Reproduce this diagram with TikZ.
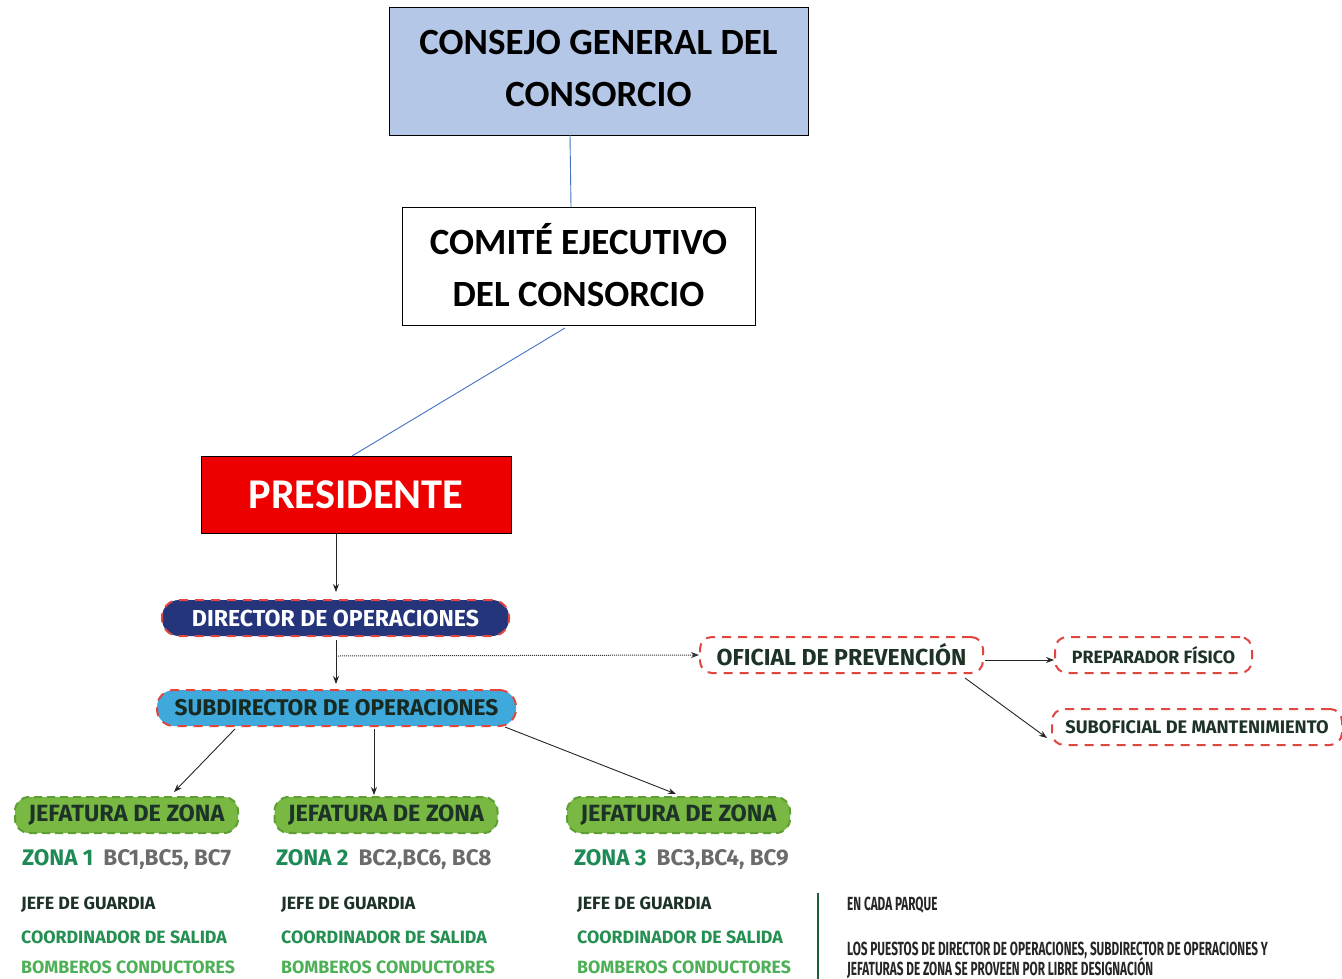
\documentclass[tikz,border=0pt]{standalone}
\usepackage{fontspec}
\setmainfont{Carlito}
\newfontfamily\lowfont{Fira Sans}
\newfontfamily\notefont[FakeStretch=0.62]{Fira Sans}
\usetikzlibrary{arrows.meta}
\definecolor{topblue}{HTML}{B4C7E7}
\definecolor{linkblue}{HTML}{4472C4}
\definecolor{presred}{HTML}{EE0000}
\definecolor{navy}{HTML}{25357C}
\definecolor{skyb}{HTML}{3FA9DC}
\definecolor{dashred}{HTML}{E0453F}
\definecolor{jgreen}{HTML}{78B843}
\definecolor{jgreenb}{HTML}{5E9E35}
\definecolor{zgreen}{HTML}{1E8A55}
\definecolor{bgray}{HTML}{6B6B6B}
\definecolor{darkt}{HTML}{1E3328}
\definecolor{cgreen}{HTML}{238F50}
\definecolor{bgreen}{HTML}{4DB057}
\definecolor{vline}{HTML}{1D5E3A}
\begin{document}
\begin{tikzpicture}[x=1pt,y=-1pt,
  topbox/.style={draw=black,line width=0.8pt,minimum width=#1,align=center,inner sep=0pt,
     font=\fontsize{37}{52}\selectfont\bfseries},
  pill/.style={rounded corners=17pt,draw=dashred,line width=2pt,dash pattern=on 9pt off 7pt,
     minimum height=36pt,inner sep=0pt},
  jefa/.style={rounded corners=14pt,fill=jgreen,draw=jgreenb,line width=2pt,dash pattern=on 8pt off 5pt,
     minimum width=223pt,minimum height=36pt,inner sep=0pt,text=darkt,
     font=\lowfont\bfseries\fontsize{23.5}{26}\selectfont},
  redbox/.style={rounded corners=12pt,fill=white,draw=dashred,line width=2pt,dash pattern=on 9pt off 7pt,
     minimum height=36pt,inner sep=0pt},
  arr/.style={-{Stealth[length=8pt,width=6pt]},line width=0.9pt,draw=black!85},
  link/.style={draw=linkblue,line width=0.9pt},
  zl/.style={anchor=west,inner sep=0pt,font=\lowfont\bfseries\fontsize{22.5}{26}\selectfont},
  rl/.style={anchor=west,inner sep=0pt,font=\lowfont\bfseries\fontsize{17.8}{20}\selectfont},
  nl/.style={anchor=west,inner sep=0pt,text=black!85,font=\notefont\bfseries\fontsize{19}{22}\selectfont}
]
\useasboundingbox (0,0) rectangle (1342,979);
\fill[white] (0,0) rectangle (1342,979);

% top boxes
\node[topbox=419pt,fill=topblue,minimum height=128pt] (cg) at (598.5,71) {};
\node[align=center,inner sep=0pt,font=\fontsize{37}{52}\selectfont\bfseries] (cgt) at (598.5,68) {CONSEJO GENERAL DEL\\CONSORCIO};
\node[topbox=353pt,fill=white,minimum height=118pt] (ce) at (578.5,266) {};
\node[align=center,inner sep=0pt,font=\fontsize{37}{52}\selectfont\bfseries] (cet) at (578.5,265) {COMITÉ EJECUTIVO\\DEL CONSORCIO};
\node[draw=black,line width=0.8pt,fill=presred,minimum width=310pt,minimum height=77pt,inner sep=0pt,
  text=white,font=\fontsize{42.4}{48}\selectfont\bfseries] (pr) at (356,494.5) {PRESIDENTE};

\draw[link] (570,135) -- (571,207);
\draw[link] (565,328) -- (352,456);

% director / subdirector
\node[pill,fill=navy,text=white,minimum width=347pt,font=\lowfont\bfseries\fontsize{23.1}{26}\selectfont] (dir) at (335.5,618) {DIRECTOR DE OPERACIONES};
\node[pill,fill=skyb,text=darkt!80!black,minimum width=359pt,font=\lowfont\bfseries\fontsize{22.7}{26}\selectfont] (sub) at (336.5,708) {SUBDIRECTOR DE OPERACIONES};

\draw[arr] (pr.south -| 336,0) -- (336,592);
\draw[arr] (336,640) -- (336,684);

% oficial etc.
\node[redbox,minimum width=283pt,font=\lowfont\bfseries\fontsize{23.1}{26}\selectfont,text=darkt] (ofi) at (841.5,655) {OFICIAL DE PREVENCIÓN};
\node[redbox,minimum width=197pt,font=\lowfont\bfseries\fontsize{17.8}{20}\selectfont,text=darkt] (prep) at (1153.5,655) {PREPARADOR FÍSICO};
\node[redbox,minimum width=290pt,font=\lowfont\bfseries\fontsize{18.2}{20}\selectfont,text=darkt] (subo) at (1197,727) {SUBOFICIAL DE MANTENIMIENTO};

\coordinate (dstart) at (338,656);
\draw[densely dotted,line width=1pt,-{Stealth[length=8pt,width=6pt]},draw=black!80] (dstart) -- (ofi.west);
\draw[arr] (985,660) -- (prep.west |- 0,660);
\draw[arr] (965,678) -- (1047,738);

% jefaturas
\node[jefa] (j1) at (126.5,815) {JEFATURA DE ZONA};
\node[jefa] (j2) at (386,815) {JEFATURA DE ZONA};
\node[jefa] (j3) at (678.5,815) {JEFATURA DE ZONA};

\draw[arr] (235,729) -- (174,792);
\draw[arr] (374,729) -- (374,795);
\draw[arr] (505,727) -- (676,794);

% zone texts
\node[zl] (z1) at (22,859) {\textcolor{zgreen}{ZONA 1}\hspace{10pt}\textcolor{bgray}{BC1,BC5, BC7}};
\node[zl] (z2) at (276,859) {\textcolor{zgreen}{ZONA 2}\hspace{10pt}\textcolor{bgray}{BC2,BC6, BC8}};
\node[zl] (z3) at (574,859) {\textcolor{zgreen}{ZONA 3}\hspace{10pt}\textcolor{bgray}{BC3,BC4, BC9}};

\foreach \n/\x in {1/21,2/281,3/577}{
  \node[rl,text=darkt] (jg\n) at (\x,905) {JEFE DE GUARDIA};
  \node[rl,text=cgreen] (cs\n) at (\x,937) {COORDINADOR DE SALIDA};
  \node[rl,text=bgreen] (bc\n) at (\x,967) {BOMBEROS CONDUCTORES};
}

\draw[vline,line width=2.5pt] (818,893) -- (818,979);
\node[nl] (n1) at (847,905) {EN CADA PARQUE};
\node[nl] (n2) at (847,950) {LOS PUESTOS DE DIRECTOR DE OPERACIONES, SUBDIRECTOR DE OPERACIONES Y};
\node[nl] (n3) at (847,968) {JEFATURAS DE ZONA SE PROVEEN POR LIBRE DESIGNACIÓN};
\end{tikzpicture}
\end{document}
